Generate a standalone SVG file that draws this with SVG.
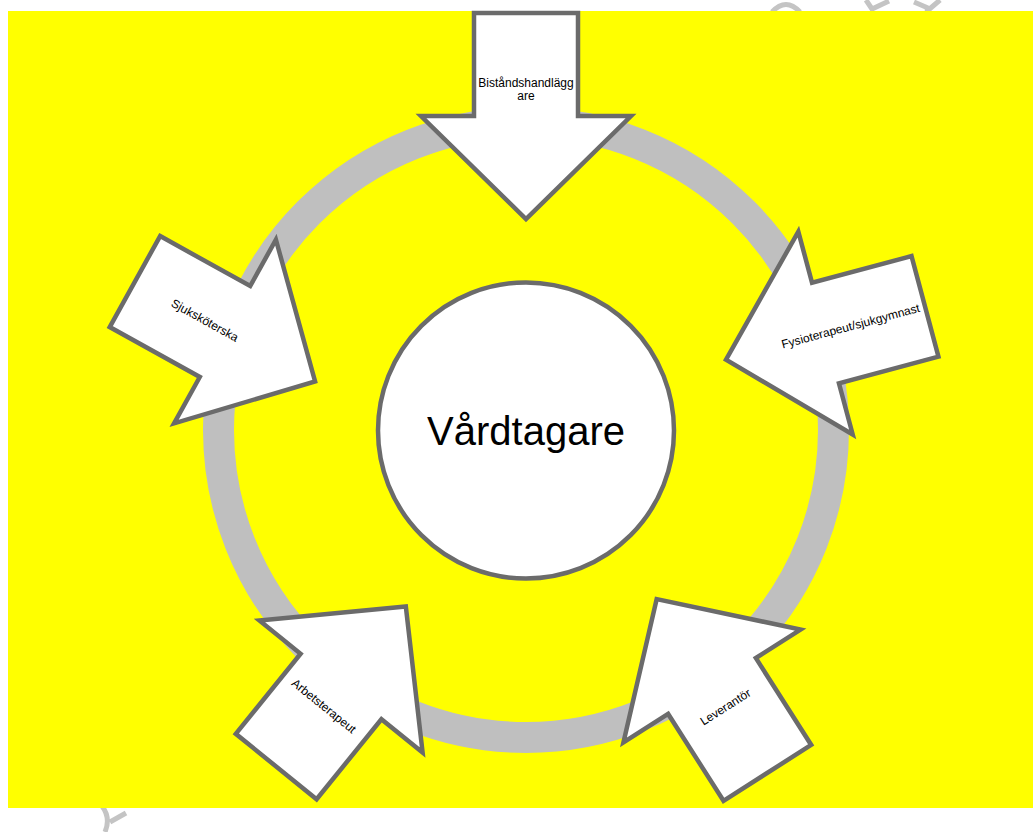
<svg xmlns="http://www.w3.org/2000/svg" width="1033" height="832" viewBox="0 0 1033 832">
<style>
.arrow{fill:#ffffff;stroke:#6b6b6b;stroke-width:4.5;stroke-linejoin:miter;stroke-miterlimit:10}
.lbl{font-family:"Liberation Sans",Arial,sans-serif;font-size:12px;fill:#000000;text-anchor:middle}
.wm{fill:none;stroke:#c4c4c4;stroke-width:5;stroke-linecap:butt}
</style>
<defs>
<polygon id="arrowShape" points="-103,-52 0,-52 0,-105 103,0 0,105 0,52 -103,52"/>
</defs>
<rect x="0" y="0" width="1033" height="832" fill="#ffffff"/>
<g id="watermark">
<path class="wm" d="M772,12 Q786,-3 800,12"/>
<path class="wm" d="M866,0 L872,9 L889,1"/>
<path class="wm" d="M940,0 L926,12 M914,2 L928,8"/>
<path class="wm" d="M102,806 Q111,818 105,832 M110,822 L126,813"/>
</g>
<rect id="background" x="8" y="11" width="1025" height="797" fill="#ffff00"/>
<g id="connectors">
<circle id="ring" cx="526" cy="430" r="307.5" fill="none" stroke="#bfbfbf" stroke-width="31"/>
</g>
<g id="node-vardtagare">
<circle cx="526" cy="430.5" r="148" fill="#ffffff" stroke="#6b6b6b" stroke-width="4.5"/>
<text x="526" y="445" font-family="Liberation Sans, Arial, sans-serif" font-size="40" text-anchor="middle" fill="#000000">Vårdtagare</text>
</g>
<g id="node-bistandshandlaggare">
<use href="#arrowShape" class="arrow" transform="translate(526,116) rotate(90)"/>
<text class="lbl" x="526" y="87">Biståndshandlägg</text>
<text class="lbl" x="526" y="100">are</text>
</g>
<g id="node-fysioterapeut" transform="translate(825.5,333) rotate(165)">
<use href="#arrowShape" class="arrow"/>
<text class="lbl" transform="translate(-26,0) rotate(180)" y="4">Fysioterapeut/sjukgymnast</text>
</g>
<g id="node-sjukskoterska" transform="translate(225,331.5) rotate(29)">
<use href="#arrowShape" class="arrow"/>
<text class="lbl" transform="translate(-23,0)" y="4">Sjuksköterska</text>
</g>
<g id="node-arbetsterapeut" transform="translate(341,686.5) rotate(-51)">
<use href="#arrowShape" class="arrow"/>
<text class="lbl" transform="translate(-26,-1) rotate(90)" y="4">Arbetsterapeut</text>
</g>
<g id="node-leverantor" transform="translate(712,686) rotate(-122.5)">
<use href="#arrowShape" class="arrow"/>
<text class="lbl" transform="translate(-25,0) rotate(90)" y="4">Leverantör</text>
</g>
</svg>
